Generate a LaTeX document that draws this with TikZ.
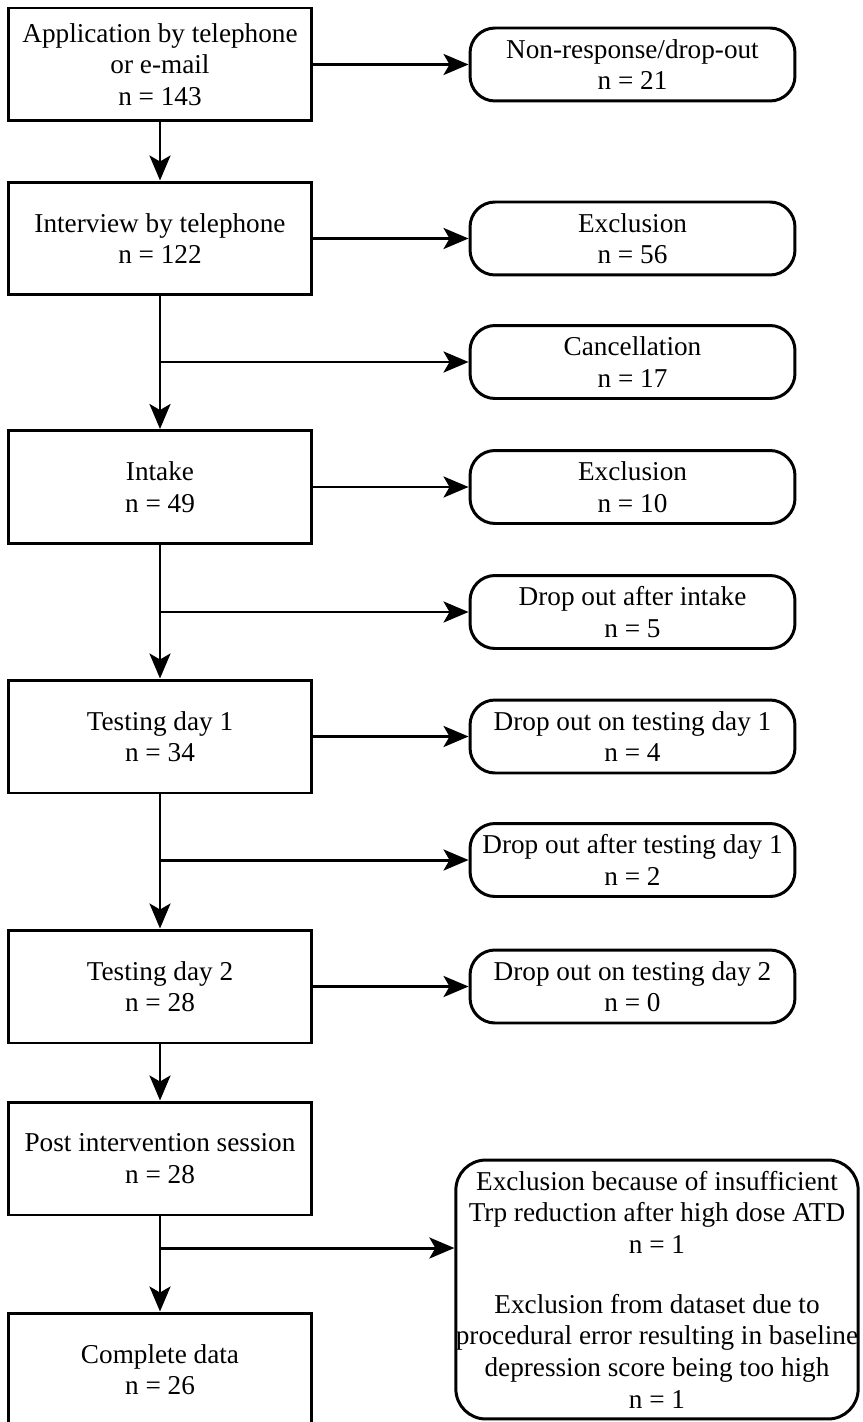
\documentclass[tikz,border=0pt]{standalone}
\usepackage{fontspec}
\setmainfont{Liberation Serif}
\usetikzlibrary{arrows.meta}

\begin{document}
\begin{tikzpicture}[x=0.02cm, y=-0.02cm,
        every node/.style={font=\fontsize{15.5}{18}\selectfont, align=center},
        stage/.style={draw, line width=1.7pt, minimum width=6.06cm, minimum height=2.26cm, inner sep=0pt},
        loss/.style={draw, line width=1.7pt, rounded corners=0.5cm, minimum width=6.5cm, minimum height=1.46cm, inner sep=0pt},
        arr/.style={-{Stealth[length=0.5cm, width=0.42cm, inset=0.12cm]}, line width=1.7pt}]
        \useasboundingbox (0,0) rectangle (862,1422);

        \node[stage] (app) at (160, 64.5) {Application by telephone\\or e-mail\\n = 143};
        \node[stage] (intv) at (160, 238.5) {Interview by telephone\\n = 122};
        \node[stage] (intake) at (160, 487) {Intake\\n = 49};
        \node[stage] (day1) at (160, 736.5) {Testing day 1\\n = 34};
        \node[stage] (day2) at (160, 986.5) {Testing day 2\\n = 28};
        \node[stage] (post) at (160, 1158.5) {Post intervention session\\n = 28};
        \node[stage] (data) at (160, 1369.5) {Complete data\\n = 26};

        \node[loss] (nonresp) at (632.5, 64.5) {Non-response/drop-out\\n = 21};
        \node[loss] (excl1) at (632.5, 238.5) {Exclusion\\n = 56};
        \node[loss] (cancel) at (632.5, 362) {Cancellation\\n = 17};
        \node[loss] (excl2) at (632.5, 487) {Exclusion\\n = 10};
        \node[loss] (dropin) at (632.5, 612) {Drop out after intake\\n = 5};
        \node[loss] (drop1) at (632.5, 736.5) {Drop out on testing day 1\\n = 4};
        \node[loss] (dropa1) at (632.5, 860) {Drop out after testing day 1\\n = 2};
        \node[loss] (drop2) at (632.5, 986.5) {Drop out on testing day 2\\n = 0};
        \node[loss, minimum width=8cm, minimum height=5.18cm, rounded corners=0.6cm] (exclfin) at (657, 1289.5)
            {Exclusion because of insufficient\\Trp reduction after high dose ATD\\n = 1\\[16pt]
             Exclusion from dataset due to\\procedural error resulting in baseline\\depression score being too high\\n = 1};

        % branch points on the main line
        \coordinate (s1) at (intv.south |- cancel);
        \coordinate (s2) at (intake.south |- dropin);
        \coordinate (s3) at (day1.south |- dropa1);
        \coordinate (s4) at (160, 1248);

        \draw[arr] (app) -- (intv);
        \draw[arr] (intv) -- (intake);
        \draw[arr] (intake) -- (day1);
        \draw[arr] (day1) -- (day2);
        \draw[arr] (day2) -- (post);
        \draw[arr] (post) -- (data);

        \draw[arr] (app) -- (nonresp);
        \draw[arr] (intv) -- (excl1);
        \draw[arr] (s1) -- (cancel);
        \draw[arr] (intake) -- (excl2);
        \draw[arr] (s2) -- (dropin);
        \draw[arr] (day1) -- (drop1);
        \draw[arr] (s3) -- (dropa1);
        \draw[arr] (day2) -- (drop2);
        \draw[arr] (s4) -- (s4 -| exclfin.west);
    \end{tikzpicture}
\end{document}
